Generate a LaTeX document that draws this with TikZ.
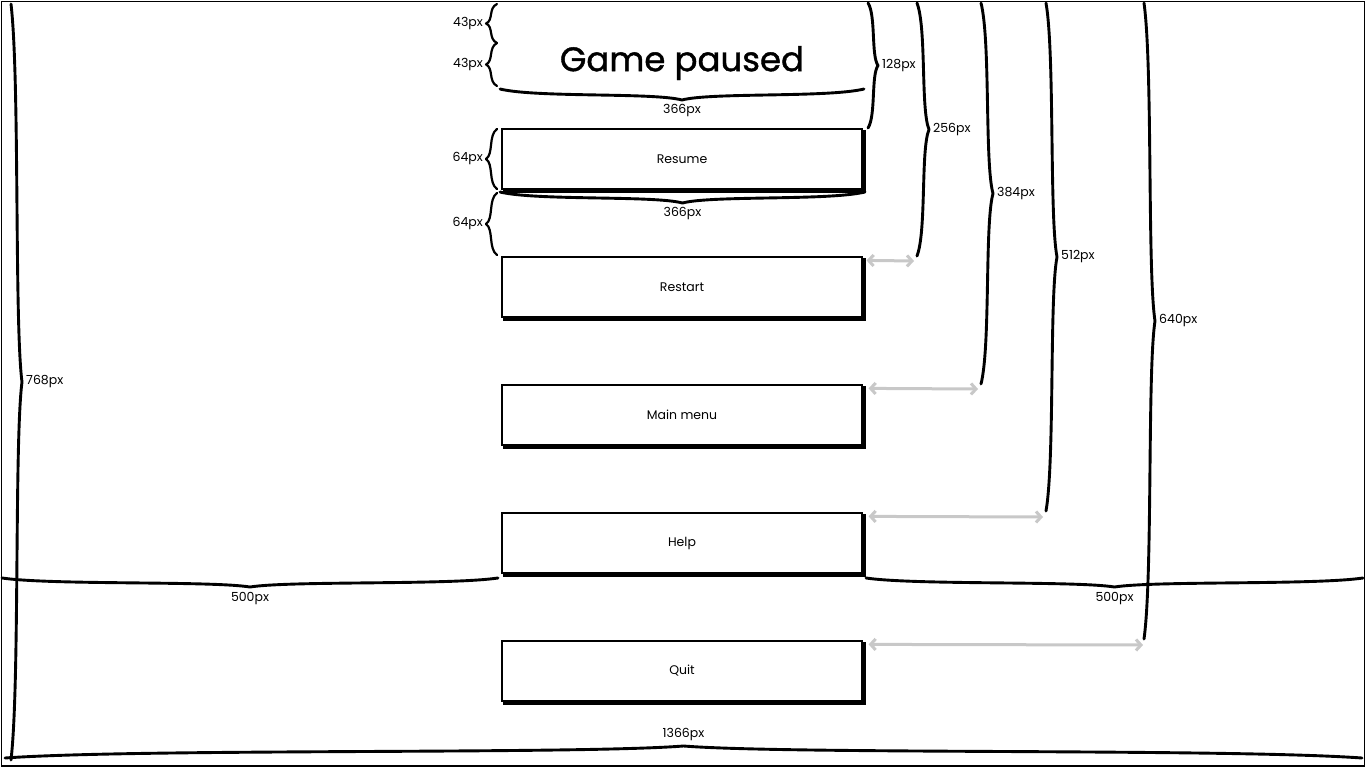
\documentclass[tikz,border=0pt]{standalone}
\usepackage{fontspec}
\setmainfont{Poppins}
\newfontfamily\titlefont[FakeBold=1.2]{Poppins}
\usetikzlibrary{arrows.meta}
\definecolor{arrowgray}{HTML}{C8C8C8}
\tikzset{
  brc/.style={line width=2.9pt, line cap=round, line join=round},
  thinbrc/.style={line width=2.2pt, line cap=round, line join=round},
  btn/.style={draw, line width=1.2pt, minimum width=360pt, minimum height=60pt, inner sep=0pt, fill=white, font=\fontsize{12.5}{14}\selectfont},
  lbl/.style={font=\fontsize{12.5}{14}\selectfont, inner sep=1pt},
  garrow/.style={draw=arrowgray, line width=3pt, {Straight Barb[length=5pt,width=11pt]}-{Straight Barb[length=5pt,width=11pt]}},
  btnshadow/.style={line width=3pt},
}
% vertical brace: name, x base, y1, y2, amplitude (signed), style
\newcommand{\myvbrace}[6]{%
  \draw[#6] (#2,#3) coordinate (#1-s)
   .. controls ({#2+0.8*(#5)},{#3+0.1*(#4-#3)}) and ({#2+0.3*(#5)},{(#3+#4)/2-0.08*(#4-#3)})
   .. ({#2+(#5)},{(#3+#4)/2}) coordinate (#1-tip)
   .. controls ({#2+0.3*(#5)},{(#3+#4)/2+0.08*(#4-#3)}) and ({#2+0.8*(#5)},{#4-0.1*(#4-#3)})
   .. (#2,#4) coordinate (#1-e);}
% horizontal brace: name, y base, x1, x2, amplitude (signed), style
\newcommand{\myhbrace}[6]{%
  \draw[#6] (#3,#2) coordinate (#1-s)
   .. controls ({#3+0.1*(#4-#3)},{#2+0.8*(#5)}) and ({(#3+#4)/2-0.08*(#4-#3)},{#2+0.3*(#5)})
   .. ({(#3+#4)/2},{#2+(#5)}) coordinate (#1-tip)
   .. controls ({(#3+#4)/2+0.08*(#4-#3)},{#2+0.3*(#5)}) and ({#4-0.1*(#4-#3)},{#2+0.8*(#5)})
   .. (#4,#2) coordinate (#1-e);}
\newcommand{\mybutton}[3]{%
  \node[btn] (#1) at (682,#2) {#3};
  \draw[btnshadow] ([shift={(2pt,-1.5pt)}]#1.south west) -- ([shift={(1.5pt,-1.5pt)}]#1.south east) -- ([shift={(1.5pt,-2pt)}]#1.north east);}
\begin{document}
\begin{tikzpicture}[x=1pt,y=-1pt]
\useasboundingbox (0,0) rectangle (1366,768);
\fill[white] (0,0) rectangle (1366,768);
\draw[line width=1.6pt] (1.5,1.5) rectangle (1364.5,766);

% title
\node[font=\titlefont\fontsize{34}{40}\selectfont, inner sep=0pt] (title) at (682,63) {Game paused};

% left small braces
\myvbrace{b43a}{497}{4}{43}{-11}{thinbrc}
\myvbrace{b43b}{497}{43}{86}{-11}{thinbrc}
\myvbrace{b64a}{497}{129}{189}{-11}{thinbrc}
\myvbrace{b64b}{497}{193}{255}{-11}{thinbrc}
\node[lbl, anchor=east] (l43a) at ([xshift=-2pt]b43a-tip) {43px};
\node[lbl, anchor=east] (l43b) at ([xshift=-2pt]b43b-tip) {43px};
\node[lbl, anchor=east] (l64a) at ([xshift=-2pt]b64a-tip) {64px};
\node[lbl, anchor=east] (l64b) at ([xshift=-2pt]b64b-tip) {64px};

% horizontal 366 braces
\myhbrace{h366a}{89}{500}{864}{11}{brc}
\myhbrace{h366b}{192}{500}{865}{11}{brc}
\node[lbl, anchor=north] (l366a) at ([yshift=-3pt]h366a-tip) {366px};
\node[lbl, anchor=north] (l366b) at ([yshift=-3pt]h366b-tip) {366px};

% right vertical braces
\myvbrace{b128}{868}{3}{128}{10}{brc}
\myvbrace{b256}{917}{3}{256}{12}{brc}
\myvbrace{b384}{981}{3}{384}{12}{brc}
\myvbrace{b512}{1046}{3}{511}{11}{brc}
\myvbrace{b640}{1144}{3}{639}{11}{brc}
\myvbrace{b768}{11}{4}{760}{11}{brc}
\node[lbl, anchor=west] (l128) at ([xshift=3pt]b128-tip) {128px};
\node[lbl, anchor=west] (l256) at ([xshift=3pt]b256-tip) {256px};
\node[lbl, anchor=west] (l384) at ([xshift=3pt]b384-tip) {384px};
\node[lbl, anchor=west] (l512) at ([xshift=3pt]b512-tip) {512px};
\node[lbl, anchor=west] (l640) at ([xshift=3pt]b640-tip) {640px};
\node[lbl, anchor=west] (l768) at ([xshift=3pt]b768-tip) {768px};

% horizontal 500 / 1366 braces
\myhbrace{h500a}{578}{2}{498}{9}{brc}
\myhbrace{h500b}{578}{866}{1363}{9}{brc}
\myhbrace{h1366}{758}{5}{1362}{-12}{brc}
\node[lbl, anchor=north] (l500a) at ([yshift=-4pt]h500a-tip) {500px};
\node[lbl, anchor=north] (l500b) at ([yshift=-4pt]h500b-tip) {500px};
\node[lbl, anchor=south] (l1366) at ([yshift=4pt]h1366-tip) {1366px};

% buttons
\mybutton{resume}{159}{Resume}
\mybutton{restart}{287}{Restart}
\mybutton{mainmenu}{415}{Main menu}
\mybutton{help}{543}{Help}
\mybutton{quit}{671}{Quit}

% gray arrows
\coordinate (a256) at (914,261);
\coordinate (a384) at (978,389);
\coordinate (a512) at (1043,517);
\coordinate (a640) at (1143,645);
\draw[garrow] ([shift={(4pt,-4pt)}]restart.north east) -- (a256);
\draw[garrow] ([shift={(6pt,-4pt)}]mainmenu.north east) -- (a384);
\draw[garrow] ([shift={(6pt,-4pt)}]help.north east) -- (a512);
\draw[garrow] ([shift={(6pt,-4pt)}]quit.north east) -- (a640);
\end{tikzpicture}
\end{document}
